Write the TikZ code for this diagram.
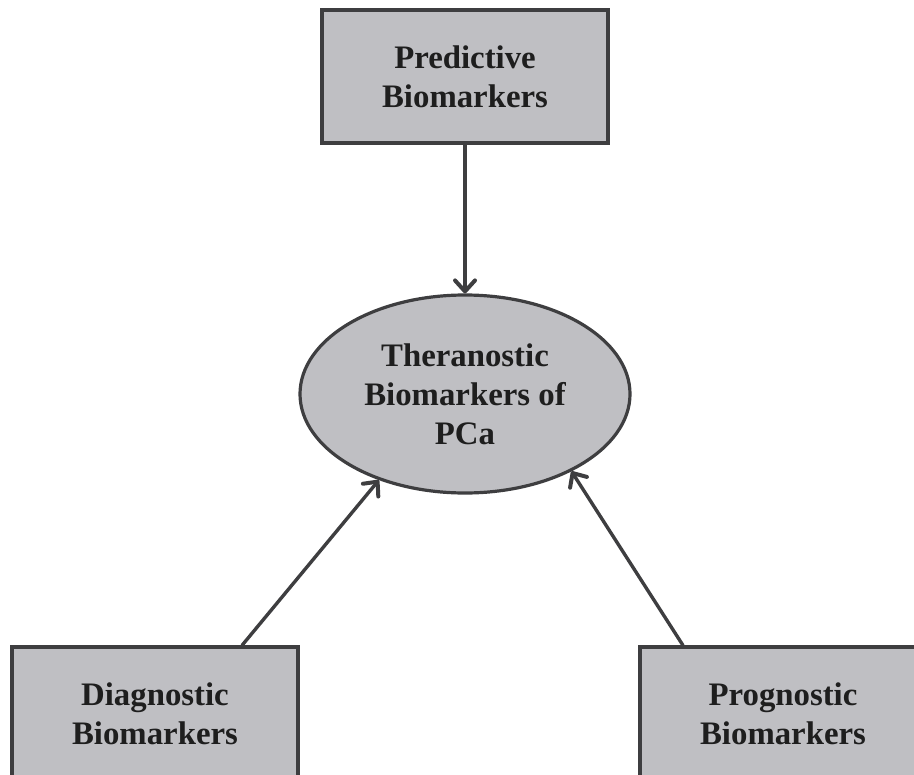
\documentclass[tikz,border=0pt]{standalone}
\usepackage{fontspec}
\setmainfont{Liberation Serif}
\usepackage{tikz}
\usetikzlibrary{shapes.geometric, arrows.meta, calc}
\definecolor{bmfill}{RGB}{191,191,195}
\definecolor{bmline}{RGB}{62,62,64}
\definecolor{bmtext}{RGB}{30,30,30}

\begin{document}
\begin{tikzpicture}[
  x=0.5pt, y=-0.5pt,
  bmbox/.style={draw=bmline, fill=bmfill, line width=1.6pt,
                minimum width=143pt, minimum height=66.5pt,
                text=bmtext, align=center,
                font=\fontsize{16.4}{19.5}\selectfont\bfseries},
  bmcore/.style={bmbox, ellipse, inner sep=0pt,
                 minimum width=165pt, minimum height=99pt},
  feed/.style={draw=bmline, line width=1.7pt,
               -{Straight Barb[length=5.5pt, width=10pt, line width=2pt, round]}}
]
  \useasboundingbox (0,0) rectangle (914,775);
  \clip (0,0) rectangle (914,775);

  %% Nodes
  \node[bmbox]  (pred)  at (465,76.5)  {Predictive\\Biomarkers};
  \node[bmcore] (thera) at (465,394)   {Theranostic\\Biomarkers of\\PCa};
  \node[bmbox]  (diag)  at (155,713.5) {Diagnostic\\Biomarkers};
  \node[bmbox]  (prog)  at (783,713.5) {Prognostic\\Biomarkers};

  %% Arrows into the theranostic ellipse
  \draw[feed] (pred.south) -- (thera.north);
  \draw[feed] ($(diag.north)+(87,0)$) -- (thera.225);
  \draw[feed] ($(prog.north)+(-100,0)$) -- (thera.-36);
\end{tikzpicture}
\end{document}
